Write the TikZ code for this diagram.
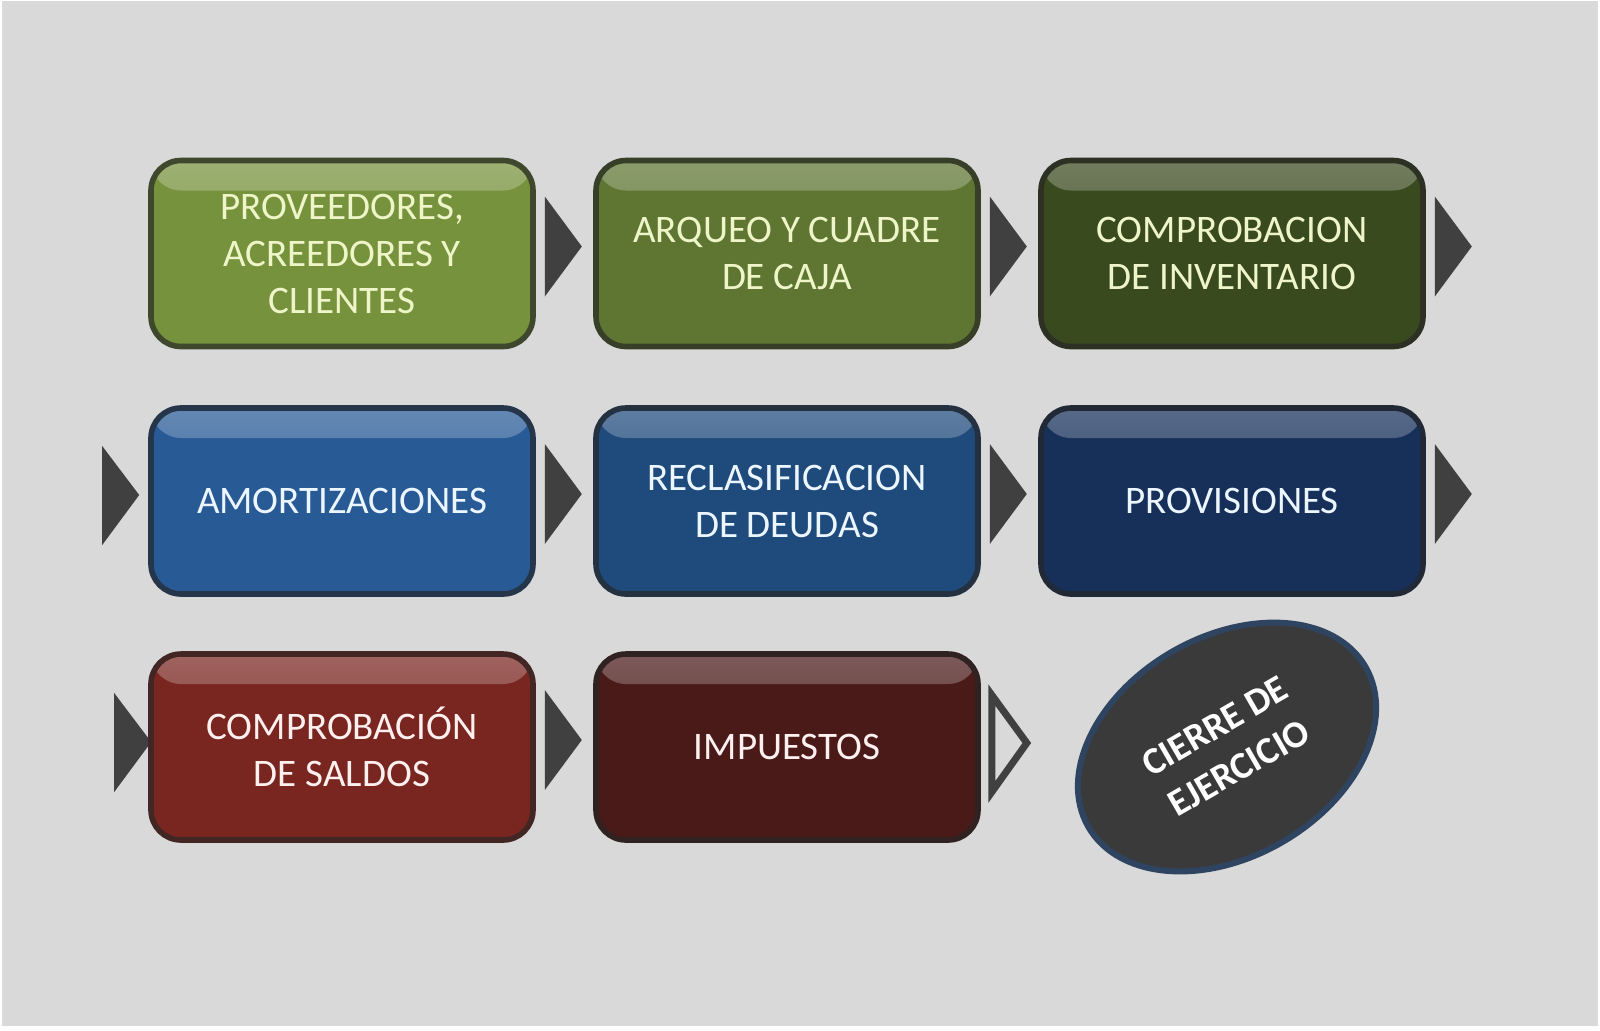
\documentclass[tikz,border=0pt]{standalone}
\usepackage{fontspec}
\setmainfont{Carlito}
\usetikzlibrary{shapes.geometric,calc}
\definecolor{bgc}{HTML}{D9D9D9}
\definecolor{tric}{HTML}{404040}
\definecolor{cA}{HTML}{76923C}
\definecolor{cB}{HTML}{5E7632}
\definecolor{cC}{HTML}{3A4A1F}
\definecolor{cD}{HTML}{285A96}
\definecolor{cE}{HTML}{1F4A7C}
\definecolor{cF}{HTML}{17305A}
\definecolor{cG}{HTML}{7A2620}
\definecolor{cH}{HTML}{4A1A19}
\definecolor{tg}{HTML}{EEF5C8}
\definecolor{tb}{HTML}{ECF6FF}
\definecolor{tr}{HTML}{FFF0F0}
\definecolor{ellf}{HTML}{3A3A3A}
\definecolor{elld}{HTML}{2E4460}
\pgfdeclarelayer{back}
\pgfdeclarelayer{mid}
\pgfsetlayers{back,mid,main}
\tikzset{
  stepbox/.style n args={2}{rounded corners=15pt, minimum width=191pt, minimum height=93pt,
    line width=2.8pt, align=center, inner sep=0pt,
    font=\fontsize{19.5}{23.5}\selectfont,
    fill=#1, draw=#1!40!black!80!gray, text=#2,
    path picture={\shade[top color=#1!72!white, bottom color=#1]
      (path picture bounding box.north west) rectangle
      ($(path picture bounding box.north east)+(0,30)$);}},
  chev/.style={fill=tric},
  chevopen/.style={fill=bgc, draw=tric, line width=3.5pt, line join=miter},
}
\newcommand{\chevR}[1]{\fill[chev] ($(#1.east)+(9,-57)$) -- ($(#1.east)+(46,-7)$) -- ($(#1.east)+(9,43)$) -- cycle;}
\begin{document}
\begin{tikzpicture}[x=0.5pt,y=-0.5pt]
\useasboundingbox (0,0) rectangle (1600,1030);
\begin{pgfonlayer}{back}
\fill[white] (0,0) rectangle (1600,1030);
\fill[bgc, draw=black!15, line width=0.6pt] (3,2) rectangle (1597,1025);
\end{pgfonlayer}

\node[stepbox={cA}{tg}] (b1) at (342,253.5) {PROVEEDORES,\\ACREEDORES Y\\CLIENTES};
\node[stepbox={cB}{tg}] (b2) at (787,253.5) {ARQUEO Y CUADRE\\DE CAJA};
\node[stepbox={cC}{tg}] (b3) at (1232,253.5) {COMPROBACION\\DE INVENTARIO};
\node[stepbox={cD}{tb}] (b4) at (342,501) {AMORTIZACIONES};
\node[stepbox={cE}{tb}] (b5) at (787,501) {RECLASIFICACION\\DE DEUDAS};
\node[stepbox={cF}{tb}] (b6) at (1232,501) {PROVISIONES};
\node[stepbox={cG}{tr}] (b7) at (342,747) {COMPROBACIÓN\\DE SALDOS};
\node[stepbox={cH}{tr}] (b8) at (787,747) {IMPUESTOS};
\node[ellipse, rotate=30, minimum width=160pt, minimum height=110pt, inner sep=0pt,
      fill=ellf, draw=elld, line width=3pt, text=white, align=center,
      font=\bfseries\fontsize{19}{24}\selectfont] (e) at (1227,747) {CIERRE DE\\EJERCICIO};

\begin{pgfonlayer}{mid}
\chevR{b1}
\chevR{b2}
\chevR{b3}
\chevR{b4}
\chevR{b5}
\chevR{b6}
\chevR{b7}
\fill[chev] ($(b4.west)+(-46,-55)$) -- ($(b4.west)+(-9,-6)$) -- ($(b4.west)+(-46,44)$) -- cycle;
\fill[chev] ($(b7.west)+(-34,-54)$) -- ($(b7.west)+(3,-5)$) -- ($(b7.west)+(-34,45)$) -- cycle;
\draw[chevopen] ($(b8.east)+(11,-52)$) -- ($(b8.east)+(46,-4)$) -- ($(b8.east)+(11,45)$) -- cycle;
\end{pgfonlayer}
\end{tikzpicture}
\end{document}
